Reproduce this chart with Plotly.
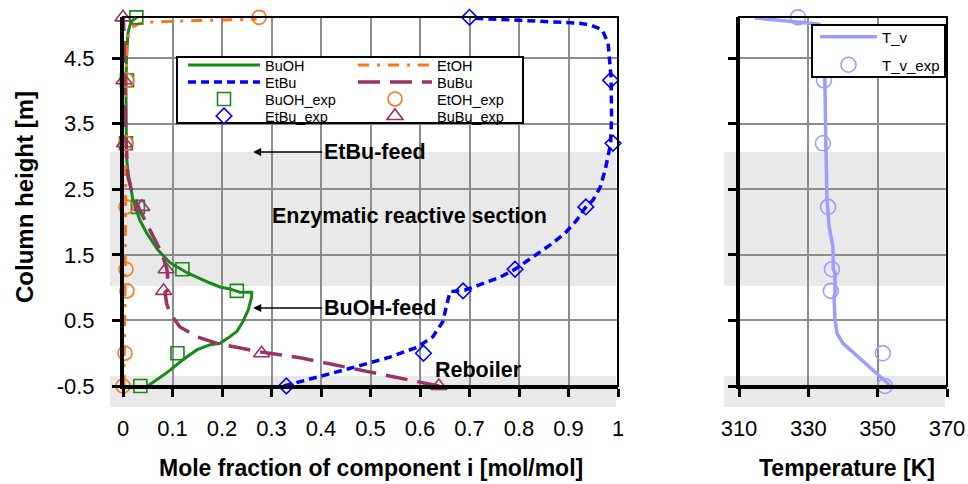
import plotly.graph_objects as go

W, H = 968, 484

# ---------------- data ----------------
h_exp = [-0.5, 0.0, 0.95, 1.28, 2.23, 3.2, 4.16, 5.12]
buoh_exp = [0.035, 0.11, 0.23, 0.12, 0.03, 0.006, 0.008, 0.027]
etoh_exp = [0.0, 0.004, 0.008, 0.006, 0.006, 0.006, 0.008, 0.275]
etbu_exp = [0.33, 0.607, 0.687, 0.792, 0.935, 0.99, 0.985, 0.70]
bubu_exp = [0.638, 0.28, 0.082, 0.087, 0.038, 0.003, 0.002, 0.0]
tv_exp = [352.1, 351.5, 336.5, 336.8, 335.7, 334.2, 334.5, 327.0]

buoh_h = [-0.5, -0.3, -0.1, 0.05, 0.13, 0.15, 0.23, 0.33, 0.48, 0.66, 0.86, 0.93, 0.93, 0.98, 1.01,
          1.07, 1.22, 1.38, 1.57, 1.83, 2.03, 2.34, 2.6, 2.75, 3.0, 3.5, 4.0, 4.5, 4.88, 5.0, 5.08, 5.12]
buoh_x = [0.05, 0.088, 0.121, 0.149, 0.176, 0.196, 0.212, 0.23, 0.242, 0.253, 0.26, 0.26, 0.236, 0.216, 0.196,
          0.176, 0.131, 0.095, 0.071, 0.048, 0.034, 0.02, 0.014, 0.01, 0.007, 0.006, 0.006, 0.007, 0.01, 0.014, 0.02, 0.028]

etoh_h = [-0.5, 0.0, 1.0, 2.0, 3.0, 4.0, 4.7, 4.82, 4.92, 4.97, 5.03, 5.05, 5.07, 5.09]
etoh_x = [0.002, 0.003, 0.004, 0.005, 0.005, 0.006, 0.008, 0.01, 0.014, 0.018, 0.035, 0.06, 0.15, 0.27]

etbu_h = [-0.5, -0.41, -0.23, -0.06, 0.09, 0.25, 0.48, 0.77, 0.94, 0.96, 1.07, 1.16, 1.28, 1.47, 1.65,
          1.83, 2.03, 2.21, 2.34, 2.53, 2.79, 3.19, 3.6, 4.2, 4.73, 4.93, 5.0, 5.03, 5.08, 5.11]
etbu_x = [0.325, 0.372, 0.459, 0.539, 0.594, 0.626, 0.646, 0.655, 0.661, 0.69, 0.728, 0.762, 0.792, 0.828, 0.863,
          0.893, 0.917, 0.933, 0.95, 0.964, 0.974, 0.985, 0.987, 0.986, 0.98, 0.968, 0.945, 0.923, 0.80, 0.70]

bubu_h = [-0.5, -0.36, -0.22, -0.07, 0.02, 0.1, 0.15, 0.25, 0.4, 0.61, 0.76, 0.93, 0.96, 1.22, 1.3,
          1.53, 1.83, 2.18, 2.49, 2.69, 2.95, 3.5, 4.5, 5.12]
bubu_x = [0.638, 0.545, 0.452, 0.358, 0.277, 0.222, 0.19, 0.149, 0.115, 0.095, 0.088, 0.085, 0.09, 0.09, 0.088,
          0.078, 0.058, 0.034, 0.017, 0.01, 0.008, 0.005, 0.003, 0.001]

tv_h = [-0.5, -0.45, 0.15, 0.3, 0.5, 0.86, 0.92, 1.22, 1.28, 1.62, 1.93, 2.34, 3.05, 3.5, 4.2, 4.7, 4.9, 5.0, 5.02, 5.11]
tv_T = [353.5, 352.7, 340.0, 338.3, 337.7, 337.4, 337.7, 337.7, 337.2, 337.1, 336.0, 335.4, 335.1, 334.9, 334.8, 334.6, 334.2, 333.5, 332.8, 314.6]

x_ticks = [0, 0.1, 0.2, 0.3, 0.4, 0.5, 0.6, 0.7, 0.8, 0.9, 1]
x_ticklabels = ["0", "0.1", "0.2", "0.3", "0.4", "0.5", "0.6", "0.7", "0.8", "0.9", "1"]
y_ticks = [-0.5, 0.5, 1.5, 2.5, 3.5, 4.5]
y_ticklabels = ["-0.5", "0.5", "1.5", "2.5", "3.5", "4.5"]
t_ticks = [310, 330, 350, 370]
t_ticklabels = ["310", "330", "350", "370"]

# ---------------- styles ----------------
GREEN = "#168a16"
ORANGE = "#ff7417"
BLUE = "#0000ff"
PURPLE = "#993366"
LAV = "#9d9dff"
FONT = "Arial, Liberation Sans, sans-serif"


def px(x):
    return x / W


def py(y):
    return 1 - y / H


fig = go.Figure()

fig.add_trace(go.Scatter(x=buoh_x, y=buoh_h, mode="lines", name="BuOH",
                         line=dict(color=GREEN, width=3), legend="legend", xaxis="x", yaxis="y"))
fig.add_trace(go.Scatter(x=etbu_x, y=etbu_h, mode="lines", name="EtBu",
                         line=dict(color=BLUE, width=3.5, dash="8px,5px"), legend="legend2", xaxis="x", yaxis="y"))
fig.add_trace(go.Scatter(x=etoh_x, y=etoh_h, mode="lines", name="EtOH",
                         line=dict(color=ORANGE, width=3, dash="11px,8px,3px,8px"), legend="legend5", xaxis="x", yaxis="y"))
fig.add_trace(go.Scatter(x=bubu_x, y=bubu_h, mode="lines", name="BuBu",
                         line=dict(color=PURPLE, width=3.5, dash="22px,10px"), legend="legend6", xaxis="x", yaxis="y"))

fig.add_trace(go.Scatter(x=buoh_exp, y=h_exp, mode="markers", name="BuOH_exp", cliponaxis=False,
                         marker=dict(symbol="square-open", size=13, color=GREEN, line=dict(width=1.6, color=GREEN)),
                         legend="legend3", xaxis="x", yaxis="y"))
fig.add_trace(go.Scatter(x=etbu_exp, y=h_exp, mode="markers", name="EtBu_exp", cliponaxis=False,
                         marker=dict(symbol="diamond-open", size=12, color=BLUE, line=dict(width=1.6, color=BLUE)),
                         legend="legend4", xaxis="x", yaxis="y"))
fig.add_trace(go.Scatter(x=etoh_exp, y=h_exp, mode="markers", name="EtOH_exp", cliponaxis=False,
                         marker=dict(symbol="circle-open", size=14, color=ORANGE, line=dict(width=1.6, color=ORANGE)),
                         legend="legend7", xaxis="x", yaxis="y"))
fig.add_trace(go.Scatter(x=bubu_exp, y=h_exp, mode="markers", name="BuBu_exp", cliponaxis=False,
                         marker=dict(symbol="triangle-up-open", size=14, color=PURPLE, line=dict(width=1.6, color=PURPLE)),
                         legend="legend8", xaxis="x", yaxis="y"))

fig.add_trace(go.Scatter(x=tv_T, y=tv_h, mode="lines", name="T_v",
                         line=dict(color=LAV, width=3.5), legend="legend9", xaxis="x2", yaxis="y2"))
fig.add_trace(go.Scatter(x=tv_exp, y=h_exp, mode="markers", name="T_v_exp", cliponaxis=False,
                         marker=dict(symbol="circle-open", size=15, color=LAV, line=dict(width=1.6, color=LAV)),
                         legend="legend10", xaxis="x2", yaxis="y2"))

# ---------------- axes ----------------
ydom = [py(386), py(17)]
common_axis = dict(showline=True, linecolor="black", linewidth=3, ticks="outside", ticklen=8, tickwidth=3,
                   tickcolor="black", showgrid=True, gridcolor="#8c8c8c", gridwidth=1.5, zeroline=False,
                   automargin=False, tickfont=dict(family=FONT, size=22, color="black"))

fig.update_layout(
    xaxis=dict(domain=[px(123), px(618)], range=[0, 1], tickvals=x_ticks, ticktext=x_ticklabels,
               anchor="y", ticklabelstandoff=13, **common_axis),
    yaxis=dict(domain=ydom, range=[-0.5, 5.125], tickvals=y_ticks, ticktext=y_ticklabels,
               anchor="x", ticklabelstandoff=13, **common_axis),
    xaxis2=dict(domain=[px(739), px(947)], range=[310, 370], tickvals=t_ticks, ticktext=t_ticklabels,
                anchor="y2", ticklabelstandoff=13, **common_axis),
    yaxis2=dict(domain=ydom, range=[-0.5, 5.125], tickvals=y_ticks, ticktext=y_ticklabels,
                anchor="x2", showticklabels=False, **common_axis),
)

# ---------------- shapes ----------------
shapes = []
BAND = "#e9e9e9"
for (x0, x1) in [(110, 616), (724, 945)]:
    shapes.append(dict(type="rect", xref="paper", yref="paper", x0=px(x0), x1=px(x1), y0=py(286), y1=py(152),
                       fillcolor=BAND, line=dict(width=0), layer="below"))
    shapes.append(dict(type="rect", xref="paper", yref="paper", x0=px(x0), x1=px(x1), y0=py(407), y1=py(376),
                       fillcolor=BAND, line=dict(width=0), layer="below"))
for (x0, x1) in [(123, 618), (739, 947)]:
    shapes.append(dict(type="rect", xref="paper", yref="paper", x0=px(x0), x1=px(x1), y0=py(386), y1=py(17),
                       line=dict(color="black", width=2), layer="above"))
shapes.append(dict(type="rect", xref="paper", yref="paper", x0=px(177), x1=px(523), y0=py(123), y1=py(57),
                   fillcolor="white", line=dict(color="black", width=2), layer="above"))
shapes.append(dict(type="rect", xref="paper", yref="paper", x0=px(812), x1=px(945), y0=py(77), y1=py(25),
                   fillcolor="white", line=dict(color="black", width=2), layer="above"))
fig.update_layout(shapes=shapes)

# ---------------- legends (one entry each, placed on the grid of the box) ----------------
def leg(x, y, iw=70, fs=14.5):
    return dict(x=px(x), y=py(y), xanchor="left", yanchor="middle", bgcolor="rgba(0,0,0,0)", borderwidth=0,
                font=dict(family=FONT, size=fs, color="black"), orientation="v", itemwidth=iw)

rows = [65, 82, 99, 116]
fig.update_layout(
    legend=leg(183, rows[0], 72), legend2=leg(183, rows[1], 72), legend3=leg(183, rows[2], 72), legend4=leg(183, rows[3], 72),
    legend5=leg(353, rows[0], 74), legend6=leg(353, rows[1], 74), legend7=leg(353, rows[2], 74), legend8=leg(353, rows[3], 74),
    legend9=leg(815, 37, 57, 15), legend10=leg(815, 65, 57, 15),
)

# ---------------- annotations ----------------
ann = []
tf = dict(family=FONT, size=23, color="black")
yf = dict(family=FONT, size=24, color="black")
af = dict(family=FONT, size=21.5, color="black")
ann.append(dict(text="<b>Mole fraction of component i [mol/mol]</b>", xref="paper", yref="paper",
                x=px(370.5), y=py(468), xanchor="center", yanchor="middle", showarrow=False, font=tf))
ann.append(dict(text="<b>Temperature [K]</b>", xref="paper", yref="paper",
                x=px(847), y=py(468), xanchor="center", yanchor="middle", showarrow=False, font=tf))
ann.append(dict(text="<b>Column height [m]</b>", xref="paper", yref="paper", textangle=-90,
                x=px(25), y=py(197), xanchor="center", yanchor="middle", showarrow=False, font=yf))
ann.append(dict(text="<b>Enzymatic reactive section</b>", xref="paper", yref="paper",
                x=px(409), y=py(216), xanchor="center", yanchor="middle", showarrow=False, font=af))
ann.append(dict(text="<b>Reboiler</b>", xref="paper", yref="paper",
                x=px(478.5), y=py(370), xanchor="center", yanchor="middle", showarrow=False, font=af))
ann.append(dict(text="<b>EtBu-feed</b>", xref="x", yref="y", x=0.263, y=3.067, ax=121.5, ay=0,
                showarrow=True, arrowhead=2, arrowsize=1, arrowwidth=1.6, arrowcolor="black", font=af))
ann.append(dict(text="<b>BuOH-feed</b>", xref="x", yref="y", x=0.263, y=0.689, ax=126.5, ay=0,
                showarrow=True, arrowhead=2, arrowsize=1, arrowwidth=1.6, arrowcolor="black", font=af))
fig.update_layout(annotations=ann)

fig.update_layout(width=W, height=H, margin=dict(l=0, r=0, t=0, b=0, autoexpand=False), autosize=False,
                  paper_bgcolor="white", plot_bgcolor="rgba(0,0,0,0)", showlegend=True,
                  font=dict(family=FONT))

fig.write_html("out.html")
